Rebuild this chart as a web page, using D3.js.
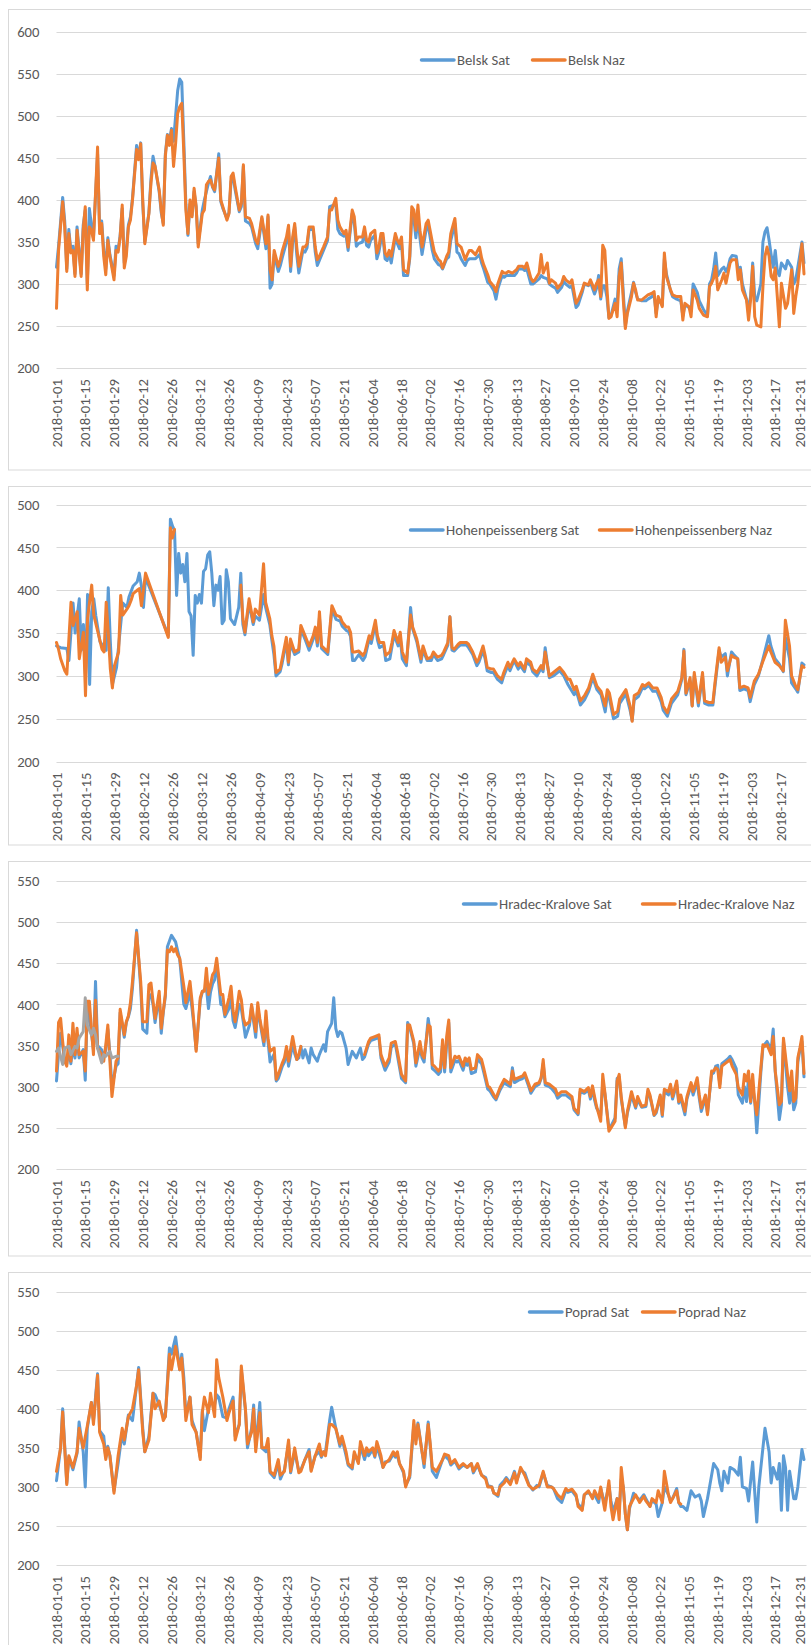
<!DOCTYPE html>
<html><head><meta charset="utf-8">
<script src="https://cdn.jsdelivr.net/npm/d3@7"></script>
<style>
body{margin:0;background:#fff;}
svg{display:block;font-family:Carlito,Calibri,Lato,sans-serif;}
</style></head><body>
<svg id="c" width="811" height="1645"></svg>
<script>
// ---------- DATA ----------
const xTickLabels = ["2018-01-01","2018-01-15","2018-01-29","2018-02-12","2018-02-26","2018-03-12","2018-03-26","2018-04-09","2018-04-23","2018-05-07","2018-05-21","2018-06-04","2018-06-18","2018-07-02","2018-07-16","2018-07-30","2018-08-13","2018-08-27","2018-09-10","2018-09-24","2018-10-08","2018-10-22","2018-11-05","2018-11-19","2018-12-03","2018-12-17","2018-12-31"];
const yTicksBelsk = [200,250,300,350,400,450,500,550,600];
const yTicksHohen = [200,250,300,350,400,450,500];
const yTicksHradec = [200,250,300,350,400,450,500,550];
const yTicksPoprad = [200,250,300,350,400,450,500,550];
const seriesNames = [["Belsk Sat","Belsk Naz"],["Hohenpeissenberg Sat","Hohenpeissenberg Naz"],["Hradec-Kralove Sat","Hradec-Kralove Naz"],["Poprad Sat","Poprad Naz"]];

// [day of year (0 = 2018-01-01), value]
const belskNaz = [[0,271],[1,340],[3,398],[4,368],[5,315],[6,360],[7,337],[8,340],[9,309],[10,364],[12,309],[13,364],[14,392],[15,293],[16,368],[17,364],[18,352],[20,463],[21,360],[22,372],[23,333],[24,311],[25,352],[26,333],[28,305],[29,340],[30,338],[31,356],[32,394],[33,319],[34,333],[35,368],[36,376],[37,400],[39,460],[40,448],[41,467],[42,400],[43,348],[45,384],[46,420],[47,444],[48,440],[50,412],[51,388],[52,370],[53,452],[54,477],[55,465],[56,483],[57,440],[58,467],[59,503],[60,511],[61,515],[62,456],[63,388],[64,360],[65,400],[66,380],[67,414],[68,392],[69,344],[71,384],[72,388],[73,418],[74,422],[75,424],[76,416],[77,412],[79,450],[80,400],[81,392],[83,376],[84,384],[85,428],[86,432],[87,416],[89,388],[90,396],[91,442],[92,380],[94,378],[95,372],[97,352],[98,348],[100,380],[102,348],[103,382],[104,317],[105,305],[106,340],[108,321],[109,329],[110,340],[112,356],[113,370],[114,321],[115,356],[116,372],[117,344],[118,321],[120,344],[121,344],[122,348],[123,368],[125,368],[126,344],[127,329],[128,333],[130,344],[132,356],[133,388],[134,388],[136,402],[137,376],[138,368],[140,360],[141,364],[142,344],[144,388],[145,380],[146,352],[147,356],[149,356],[150,368],[151,352],[152,350],[153,360],[155,364],[156,337],[157,344],[158,360],[159,360],[160,337],[161,333],[162,340],[163,333],[165,360],[166,352],[167,348],[168,356],[169,317],[171,313],[172,333],[173,392],[174,388],[175,364],[176,394],[177,364],[178,344],[180,372],[181,376],[183,350],[184,338],[186,329],[187,327],[188,319],[190,333],[191,338],[192,360],[194,378],[195,348],[196,346],[197,344],[199,329],[200,335],[201,340],[202,340],[204,335],[206,344],[207,331],[208,323],[210,311],[211,303],[213,297],[214,291],[215,301],[217,315],[218,313],[219,313],[220,315],[222,313],[223,315],[224,317],[225,321],[227,321],[228,319],[229,325],[231,307],[232,303],[233,305],[235,313],[236,335],[237,313],[239,325],[240,301],[241,305],[243,301],[244,295],[246,301],[247,309],[248,305],[250,301],[251,305],[253,277],[254,281],[256,293],[257,301],[259,299],[260,305],[262,293],[263,301],[264,305],[265,285],[266,346],[267,340],[268,297],[269,259],[270,261],[272,277],[273,261],[274,309],[275,325],[276,281],[277,247],[278,265],[280,285],[281,301],[282,293],[283,281],[285,281],[287,285],[288,287],[290,289],[291,291],[292,261],[293,285],[295,273],[296,337],[297,309],[299,293],[300,287],[302,285],[304,285],[305,257],[306,277],[308,273],[309,261],[310,293],[312,281],[313,271],[315,263],[317,261],[318,297],[319,301],[320,307],[321,321],[322,293],[324,305],[325,313],[326,301],[327,313],[328,325],[329,329],[331,329],[332,305],[333,317],[334,293],[336,281],[337,257],[338,281],[339,321],[340,261],[341,251],[343,249],[344,297],[345,333],[346,344],[347,333],[348,309],[349,305],[350,319],[351,285],[352,249],[353,301],[355,271],[356,277],[358,317],[359,265],[360,285],[361,301],[362,325],[363,348],[364,312]];

const belskSat = [[0,320],[1,345],[3,403],[4,375],[5,318],[6,365],[7,340],[8,345],[9,312],[10,368],[12,312],[13,370],[14,388],[15,300],[16,390],[17,370],[18,355],[20,455],[21,365],[22,375],[23,340],[24,318],[25,355],[26,335],[28,310],[29,345],[30,340],[31,358],[32,390],[33,325],[34,340],[35,370],[36,380],[37,402],[39,465],[40,450],[41,468],[42,395],[43,350],[45,385],[46,425],[47,452],[48,440],[50,410],[51,385],[52,372],[53,455],[54,478],[55,470],[56,485],[57,470],[58,500],[59,530],[60,544],[61,540],[62,470],[63,395],[64,358],[65,395],[66,382],[67,410],[68,392],[69,348],[71,388],[72,400],[73,410],[74,420],[75,428],[76,415],[77,410],[79,455],[80,398],[81,390],[83,378],[84,385],[85,422],[86,428],[87,412],[89,386],[90,392],[91,440],[92,375],[94,372],[95,368],[97,348],[98,342],[100,378],[102,342],[103,380],[104,295],[105,300],[106,335],[108,315],[109,322],[110,332],[112,350],[113,365],[114,315],[115,350],[116,368],[117,335],[118,313],[120,340],[121,338],[122,343],[123,365],[125,365],[126,338],[127,322],[128,328],[130,340],[132,352],[133,392],[134,393],[136,395],[137,365],[138,360],[140,357],[141,358],[142,340],[144,384],[145,373],[146,345],[147,348],[149,350],[150,362],[151,346],[152,344],[153,352],[155,358],[156,330],[157,338],[158,352],[159,355],[160,330],[161,328],[162,336],[163,325],[165,355],[166,348],[167,342],[168,350],[169,310],[171,310],[172,330],[173,382],[174,378],[175,355],[176,380],[177,354],[178,335],[180,365],[181,370],[183,340],[184,330],[186,323],[187,322],[188,318],[190,330],[191,332],[192,352],[194,372],[195,338],[196,336],[197,330],[199,322],[200,328],[201,330],[202,330],[204,330],[206,335],[207,325],[208,318],[210,302],[211,300],[213,292],[214,282],[215,295],[217,310],[218,308],[219,310],[220,310],[222,310],[223,310],[224,313],[225,318],[227,318],[228,316],[229,318],[231,300],[232,300],[233,302],[235,306],[236,310],[237,308],[239,306],[240,300],[241,298],[243,295],[244,290],[246,296],[247,303],[248,300],[250,296],[251,298],[253,272],[254,275],[256,290],[257,300],[259,298],[260,302],[262,288],[263,295],[264,310],[265,282],[266,298],[267,298],[268,285],[269,260],[270,262],[272,282],[273,275],[274,318],[275,330],[276,290],[277,250],[278,268],[280,290],[281,302],[282,290],[283,282],[285,280],[287,280],[288,282],[290,285],[291,288],[292,265],[293,282],[295,275],[296,330],[297,312],[299,292],[300,285],[302,282],[304,280],[305,262],[306,275],[308,272],[309,268],[310,300],[312,290],[313,280],[315,270],[317,262],[318,300],[319,305],[320,318],[321,337],[322,310],[324,318],[325,320],[326,315],[327,320],[328,330],[329,334],[331,333],[332,315],[333,320],[334,300],[336,282],[337,270],[338,285],[339,325],[340,285],[341,280],[343,300],[344,350],[345,362],[346,367],[347,352],[348,335],[349,320],[350,340],[351,315],[352,310],[353,325],[355,318],[356,328],[358,320],[359,300],[360,305],[361,320],[362,335],[363,350],[364,325]];

const hohenNaz = [[0,339],[1,331],[2,320],[4,306],[5,302],[7,386],[8,359],[10,375],[11,320],[13,351],[14,277],[15,367],[17,406],[18,371],[20,351],[22,331],[23,328],[24,386],[25,351],[26,308],[27,286],[28,312],[30,328],[31,394],[32,371],[34,378],[35,382],[36,388],[37,396],[39,400],[40,402],[41,382],[43,420],[54,345],[55,473],[56,461],[57,471],[58,null],[89,406],[90,367],[91,351],[93,390],[95,363],[96,378],[98,371],[100,431],[101,386],[103,367],[104,347],[105,335],[106,304],[108,308],[109,320],[111,345],[112,316],[113,343],[115,328],[117,331],[118,359],[120,347],[122,335],[124,347],[125,357],[126,339],[127,375],[128,335],[131,328],[133,382],[135,371],[137,369],[138,363],[140,357],[141,357],[142,351],[143,328],[144,328],[146,329],[148,324],[149,328],[151,347],[152,343],[154,365],[155,347],[156,339],[158,339],[159,324],[161,328],[162,339],[163,353],[165,339],[166,351],[167,328],[169,316],[171,371],[172,357],[174,343],[176,320],[177,335],[179,320],[181,322],[182,328],[184,322],[186,324],[187,328],[189,339],[190,369],[191,333],[192,331],[194,337],[195,339],[198,339],[199,337],[201,328],[203,316],[204,320],[206,335],[207,324],[208,310],[210,308],[211,308],[213,300],[215,296],[216,304],[218,316],[219,310],[221,320],[223,312],[224,316],[226,308],[227,320],[229,316],[230,308],[232,304],[234,312],[235,308],[236,328],[238,300],[240,304],[243,310],[245,304],[247,296],[248,296],[250,284],[251,288],[253,271],[255,277],[257,286],[259,302],[261,288],[263,282],[265,265],[266,284],[267,280],[269,255],[271,259],[272,273],[275,284],[277,265],[278,247],[279,277],[281,280],[283,290],[284,288],[286,292],[288,286],[290,286],[292,275],[293,265],[295,257],[297,273],[300,282],[302,298],[303,329],[304,280],[306,298],[307,265],[308,304],[310,269],[312,304],[313,271],[315,269],[317,269],[318,292],[320,333],[321,316],[323,322],[324,306],[326,324],[327,322],[329,320],[330,286],[332,288],[334,286],[335,275],[337,294],[339,302],[341,316],[344,335],[345,328],[347,316],[349,312],[351,306],[352,365],[354,335],[355,300],[357,288],[358,284],[360,312],[361,310]];

const hohenSat = [[0,335],[2,333],[5,332],[6,318],[8,385],[9,350],[11,390],[12,330],[13,360],[14,300],[15,395],[16,290],[17,375],[18,390],[19,370],[21,340],[23,333],[24,330],[25,403],[26,340],[27,290],[29,310],[31,360],[32,385],[34,380],[35,392],[37,405],[39,410],[40,420],[41,405],[42,380],[43,415],[54,347],[55,483],[56,475],[57,470],[58,394],[59,443],[60,420],[61,430],[62,410],[63,443],[64,375],[65,370],[66,324],[67,394],[68,385],[69,395],[70,385],[71,422],[72,425],[73,441],[74,445],[75,420],[76,382],[77,406],[78,400],[79,416],[80,361],[81,365],[82,424],[83,410],[84,367],[86,360],[88,380],[89,420],[90,360],[91,348],[93,385],[95,360],[96,370],[98,365],[100,395],[101,380],[103,360],[104,342],[105,325],[106,300],[108,305],[109,315],[111,340],[112,313],[113,338],[115,325],[117,328],[118,355],[120,343],[122,330],[124,343],[125,352],[126,335],[127,368],[128,332],[131,325],[133,378],[135,366],[137,364],[138,358],[140,353],[141,352],[142,346],[143,318],[144,318],[146,325],[148,318],[149,322],[151,343],[152,338],[154,360],[155,342],[156,333],[158,336],[159,318],[161,320],[162,334],[163,348],[165,335],[166,345],[167,320],[169,312],[171,380],[172,355],[174,340],[176,316],[177,330],[179,318],[181,318],[182,325],[184,318],[186,320],[187,325],[189,336],[190,369],[191,330],[192,329],[194,334],[195,336],[198,336],[199,333],[201,325],[203,312],[204,316],[206,330],[207,320],[208,306],[210,304],[211,304],[213,296],[215,292],[216,300],[218,312],[219,306],[221,318],[223,308],[224,312],[226,305],[227,316],[229,312],[230,305],[232,300],[234,309],[235,305],[236,333],[238,298],[240,300],[243,306],[245,300],[247,290],[248,286],[250,278],[251,283],[253,266],[255,272],[257,282],[259,298],[261,284],[263,278],[265,258],[266,278],[267,274],[269,250],[271,253],[272,268],[275,279],[277,260],[278,248],[279,272],[281,276],[283,286],[284,285],[286,289],[288,282],[290,282],[292,270],[293,260],[295,253],[297,268],[300,278],[302,296],[303,331],[304,278],[306,294],[307,265],[308,300],[310,265],[312,300],[313,268],[315,266],[317,266],[318,288],[320,330],[321,322],[323,326],[324,300],[326,328],[327,325],[329,320],[330,283],[332,285],[334,283],[335,270],[337,290],[339,300],[341,318],[344,347],[345,335],[347,320],[349,314],[351,305],[352,345],[354,320],[355,292],[357,285],[358,281],[360,315],[361,313]];

const hradecNaz = [[0,319],[1,378],[2,383],[3,355],[4,331],[5,325],[6,363],[7,331],[8,377],[9,339],[10,371],[11,339],[13,343],[14,319],[15,404],[16,404],[18,339],[19,405],[20,347],[22,339],[23,331],[24,351],[25,375],[26,331],[27,288],[29,331],[30,335],[31,394],[33,363],[34,379],[35,386],[36,402],[37,428],[39,487],[41,428],[42,379],[44,379],[45,424],[46,426],[47,404],[48,383],[50,416],[51,371],[52,392],[53,412],[54,466],[55,464],[56,470],[57,464],[58,468],[59,460],[60,456],[62,422],[63,402],[65,428],[66,404],[67,375],[68,343],[70,408],[71,416],[72,416],[73,444],[74,412],[75,424],[76,436],[77,440],[78,456],[80,412],[81,412],[82,388],[84,408],[85,422],[86,392],[87,379],[89,416],[90,406],[91,383],[92,375],[94,379],[95,400],[97,367],[98,402],[99,383],[101,355],[102,392],[103,359],[104,343],[106,347],[107,309],[108,315],[110,329],[111,335],[112,349],[113,331],[115,361],[116,347],[117,333],[118,339],[119,349],[120,null],[150,339],[152,355],[153,359],[155,361],[157,363],[158,339],[160,325],[162,335],[163,353],[165,355],[166,343],[168,315],[170,307],[171,375],[172,375],[174,355],[175,329],[177,355],[178,339],[179,335],[181,375],[182,373],[183,327],[184,325],[186,319],[187,323],[188,357],[189,323],[190,361],[191,381],[192,323],[194,337],[195,335],[196,337],[198,325],[199,335],[200,331],[201,335],[202,321],[204,323],[205,339],[207,333],[208,323],[210,301],[211,299],[213,290],[214,286],[216,299],[218,309],[219,307],[221,303],[222,319],[223,309],[225,311],[227,313],[228,317],[230,303],[231,295],[233,303],[235,305],[236,311],[237,333],[238,305],[240,303],[241,301],[243,297],[244,290],[246,294],[248,294],[249,292],[251,288],[252,274],[254,268],[255,297],[257,294],[259,299],[260,288],[261,301],[262,288],[263,276],[265,258],[266,315],[267,294],[269,246],[270,250],[272,258],[273,307],[274,315],[275,288],[277,250],[278,270],[279,282],[280,294],[282,276],[283,288],[285,276],[287,278],[288,297],[289,290],[291,266],[292,270],[294,290],[295,266],[296,297],[298,294],[299,303],[300,288],[302,307],[303,282],[304,290],[306,270],[307,288],[309,305],[310,294],[312,311],[313,290],[314,274],[316,290],[317,266],[319,319],[320,319],[321,323],[322,321],[323,299],[324,325],[326,329],[327,331],[328,333],[329,325],[331,315],[332,299],[334,290],[335,315],[336,307],[337,319],[338,282],[339,315],[340,282],[341,266],[343,323],[344,351],[345,349],[346,351],[348,339],[349,361],[350,319],[352,278],[353,282],[354,359],[356,315],[357,295],[358,319],[359,282],[360,286],[361,335],[362,347],[363,361],[364,316]];

const hradecSat = [[0,307],[1,340],[2,365],[3,350],[4,330],[5,328],[6,345],[7,328],[8,350],[9,335],[10,360],[11,335],[13,345],[14,308],[15,395],[16,385],[18,345],[19,428],[20,350],[22,345],[23,335],[24,345],[25,370],[26,340],[27,300],[29,325],[30,328],[31,390],[33,360],[34,378],[35,385],[36,395],[37,420],[39,490],[41,420],[42,370],[44,365],[45,410],[46,412],[47,400],[48,378],[50,410],[51,365],[52,390],[53,410],[54,470],[55,477],[56,484],[57,480],[58,476],[59,465],[60,455],[62,400],[63,395],[65,415],[66,395],[67,372],[68,345],[70,405],[71,415],[72,418],[73,420],[74,395],[75,415],[76,425],[77,430],[78,450],[80,400],[81,400],[82,385],[84,395],[85,410],[86,380],[87,372],[89,400],[90,395],[91,378],[92,360],[94,375],[95,398],[97,360],[98,395],[99,380],[101,350],[102,380],[103,355],[104,330],[106,340],[107,307],[108,310],[110,325],[111,330],[112,345],[113,325],[115,352],[116,340],[117,333],[118,335],[119,349],[120,335],[121,345],[123,329],[124,347],[125,339],[127,331],[128,339],[130,351],[131,343],[132,367],[134,377],[135,408],[136,371],[137,361],[138,367],[139,365],[141,347],[142,327],[144,343],[145,339],[146,335],[148,347],[149,333],[150,336],[152,352],[153,356],[155,358],[157,360],[158,335],[160,320],[162,330],[163,348],[165,352],[166,338],[168,310],[170,305],[171,378],[172,372],[174,352],[175,325],[177,348],[178,335],[179,330],[181,383],[182,365],[183,322],[184,320],[186,315],[187,318],[188,352],[189,318],[190,352],[191,378],[192,318],[194,332],[195,330],[196,332],[198,320],[199,330],[200,326],[201,330],[202,316],[204,318],[205,334],[207,328],[208,318],[210,297],[211,295],[213,287],[214,284],[216,296],[218,305],[219,303],[221,300],[222,323],[223,305],[225,308],[227,310],[228,314],[230,300],[231,292],[233,300],[235,303],[236,310],[237,328],[238,302],[240,300],[241,298],[243,292],[244,286],[246,290],[248,290],[249,288],[251,284],[252,272],[254,266],[255,294],[257,292],[259,296],[260,285],[261,298],[262,284],[263,274],[265,265],[266,305],[267,292],[269,250],[270,252],[272,262],[273,310],[274,312],[275,285],[277,252],[278,268],[279,278],[280,290],[282,274],[283,284],[285,275],[287,276],[288,294],[289,288],[291,265],[292,268],[294,288],[295,264],[296,294],[298,290],[299,300],[300,285],[302,303],[303,280],[304,286],[306,266],[307,285],[309,302],[310,290],[312,306],[313,286],[314,270],[316,286],[317,268],[319,315],[320,317],[321,325],[322,326],[323,303],[324,328],[326,332],[327,334],[328,337],[329,333],[331,322],[332,290],[334,280],[335,300],[336,282],[337,310],[338,280],[339,300],[340,283],[341,244],[343,318],[344,348],[345,352],[346,355],[348,345],[349,370],[350,318],[352,260],[353,278],[354,355],[356,300],[357,280],[358,300],[359,272],[360,280],[361,330],[362,345],[363,355],[364,312]];

const hradecExtra = [[0,343],[1,347],[3,327],[4,347],[6,349],[7,339],[9,349],[10,347],[11,359],[13,367],[14,408],[15,375],[17,363],[18,371],[19,363],[20,347],[22,329],[23,339],[24,337],[26,343],[27,335],[29,337],[30,337]];

const popradNaz = [[0,320],[2,350],[3,396],[5,303],[6,340],[8,325],[10,345],[11,375],[13,350],[15,378],[17,408],[18,380],[20,443],[21,370],[23,355],[24,335],[25,350],[26,340],[28,292],[30,340],[32,375],[33,360],[35,390],[37,400],[39,430],[40,450],[42,370],[43,345],[45,360],[47,420],[48,400],[50,410],[52,385],[53,390],[55,470],[56,450],[58,480],[60,450],[61,465],[62,430],[63,385],[65,415],[66,380],[68,370],[70,335],[71,395],[72,415],[74,395],[75,420],[77,390],[78,463],[79,440],[81,415],[83,385],[84,395],[86,410],[87,360],[89,380],[90,455],[92,400],[93,355],[95,370],[96,400],[97,345],[99,395],[100,350],[102,350],[103,362],[104,320],[106,315],[108,335],[109,315],[111,320],[113,360],[114,320],[116,350],[118,318],[119,320],[121,335],[123,345],[124,320],[126,340],[128,355],[129,340],[130,345],[131,340],[133,380],[134,380],[136,375],[138,355],[139,365],[141,345],[142,330],[144,325],[145,345],[147,330],[148,358],[150,340],[151,350],[152,345],[154,350],[155,340],[156,358],[158,340],[159,325],[160,330],[162,335],[164,345],[165,340],[166,345],[167,330],[169,320],[170,300],[172,315],[174,385],[175,355],[176,380],[178,345],[179,330],[181,380],[182,355],[183,325],[185,320],[186,325],[188,335],[189,342],[191,340],[192,330],[194,335],[196,325],[198,330],[200,325],[202,330],[203,320],[205,330],[207,315],[209,310],[210,300],[212,300],[213,292],[215,290],[216,300],[218,305],[219,310],[221,303],[223,318],[224,305],[226,325],[228,315],[230,302],[232,297],[234,300],[235,302],[237,320],[238,310],[239,300],[241,300],[242,298],[244,290],[246,285],[248,298],[249,295],[251,297],[253,290],[254,275],[256,270],[257,290],[259,295],[261,285],[262,295],[264,285],[265,300],[266,285],[267,270],[269,308],[270,275],[271,258],[273,285],[274,258],[275,325],[276,300],[277,265],[278,245],[279,275],[281,285],[282,290],[284,280],[286,288],[287,282],[289,275],[290,285],[292,280],[293,295],[295,280],[296,320],[298,290],[299,280],[300,285],[302,295],[303,280],[304,278]];

const popradSat = [[0,308],[2,350],[3,400],[5,305],[6,338],[8,322],[10,343],[11,383],[13,345],[14,300],[15,375],[17,408],[18,385],[20,445],[21,372],[23,365],[24,338],[25,352],[26,340],[28,295],[30,330],[32,370],[33,355],[35,392],[37,385],[39,430],[40,453],[42,375],[43,345],[45,365],[47,420],[48,418],[50,405],[52,390],[53,390],[55,478],[56,470],[58,492],[60,450],[61,470],[62,440],[63,390],[65,415],[66,385],[68,370],[70,338],[71,398],[72,372],[74,400],[75,408],[77,405],[78,418],[79,415],[81,390],[83,388],[84,400],[86,415],[87,365],[89,380],[90,450],[92,398],[93,350],[95,375],[96,405],[97,350],[99,408],[100,350],[102,345],[103,355],[104,318],[106,312],[108,330],[109,310],[111,322],[113,355],[114,318],[116,345],[118,320],[119,322],[121,335],[123,348],[124,322],[126,340],[128,345],[129,338],[130,345],[131,345],[133,385],[134,402],[136,375],[138,352],[139,362],[141,340],[142,328],[144,323],[145,342],[147,332],[148,352],[150,335],[151,345],[152,340],[154,348],[155,338],[156,352],[158,335],[159,325],[160,332],[162,333],[164,342],[165,338],[166,340],[167,330],[169,318],[170,302],[172,312],[174,380],[175,360],[176,382],[178,345],[179,325],[181,383],[182,352],[183,320],[185,312],[186,320],[188,335],[189,340],[191,335],[192,328],[194,333],[196,323],[198,328],[200,325],[202,330],[203,318],[205,328],[207,315],[209,312],[210,302],[212,300],[213,292],[215,288],[216,302],[218,308],[219,312],[221,305],[223,320],[224,308],[226,322],[228,318],[230,303],[232,296],[234,302],[235,300],[237,318],[238,310],[239,302],[241,300],[242,298],[244,285],[246,280],[248,295],[249,293],[251,295],[253,288],[254,278],[256,272],[257,290],[259,293],[261,288],[262,290],[264,280],[265,298],[266,288],[267,278],[269,302],[270,282],[271,268],[273,285],[274,270],[275,310],[276,300],[277,265],[278,245],[279,272],[281,292],[282,288],[284,283],[286,290],[287,285],[289,275],[290,283],[292,278],[293,262],[295,280],[296,300],[298,290],[299,282],[300,285],[302,298],[303,280],[304,275],[305,275],[307,270],[309,295],[311,287],[313,290],[314,282],[315,262],[317,285],[318,300],[320,330],[322,322],[323,305],[324,295],[325,320],[327,305],[328,325],[330,322],[332,315],[333,338],[334,300],[336,298],[337,282],[339,332],[341,255],[342,300],[344,350],[345,375],[347,345],[348,305],[349,325],[351,310],[352,330],[353,270],[354,340],[355,325],[356,270],[357,320],[359,285],[360,285],[361,300],[362,325],[363,348],[364,335]];

// ---------- LAYOUT ----------
const BLUE = "#5B9BD5", ORANGE = "#ED7D31", GRAY = "#A5A5A5";
const TXT = "#595959", GRID = "#D9D9D9";
const FS = 14.7;
const svg = d3.select("#c");
const day0 = Date.UTC(2018, 0, 1);
const toDate = d => new Date(day0 + d * 864e5);
const parse = d3.utcParse("%Y-%m-%d");
const PLOT_L = 56.5, PLOT_R = 804, GRID_R = 806.5, LABEL_MAX_X = 800;

const panels = [
  {box:[8.5,9.5,810,460.5], yTicks:yTicksBelsk, yTop:32, yBot:368, endDay:364, nTicks:27,
   legendY:60, leg:[420,531], names:seriesNames[0], series:[[belskSat,BLUE],[belskNaz,ORANGE]]},
  {box:[8.5,486.5,810,358.5], yTicks:yTicksHohen, yTop:504.6, yBot:761.6, endDay:361, nTicks:26,
   legendY:530, leg:[409,598], names:seriesNames[1], series:[[hohenSat,BLUE],[hohenNaz,ORANGE]]},
  {box:[8.5,861.5,810,394.5], yTicks:yTicksHradec, yTop:881, yBot:1169, endDay:364, nTicks:27,
   legendY:904, leg:[462,641], names:seriesNames[2], series:[[hradecSat,BLUE],[hradecNaz,ORANGE],[hradecExtra,GRAY]]},
  {box:[8.5,1272.5,810,400], yTicks:yTicksPoprad, yTop:1291.7, yBot:1565, endDay:364, nTicks:27,
   legendY:1312, leg:[528,641], names:seriesNames[3], series:[[popradSat,BLUE],[popradNaz,ORANGE]]}
];

panels.forEach(p => {
  const g = svg.append("g");
  g.append("rect").attr("x",p.box[0]).attr("y",p.box[1]).attr("width",p.box[2]).attr("height",p.box[3])
    .attr("fill","#fff").attr("stroke",GRID).attr("stroke-width",1);
  const yMax = d3.max(p.yTicks), yMin = d3.min(p.yTicks);
  const x = d3.scaleUtc().domain([toDate(0), toDate(p.endDay)]).range([PLOT_L, PLOT_R]);
  const y = d3.scaleLinear().domain([yMin, yMax]).range([p.yBot, p.yTop]);

  g.selectAll("line.grid").data(p.yTicks).join("line")
    .attr("x1",PLOT_L).attr("x2",GRID_R)
    .attr("y1",d=>Math.round(y(d))+0.5).attr("y2",d=>Math.round(y(d))+0.5)
    .attr("stroke",GRID).attr("stroke-width",1);

  g.selectAll("text.yl").data(p.yTicks).join("text")
    .attr("x",39.5).attr("y",d=>y(d)).attr("dy","0.35em")
    .attr("text-anchor","end").attr("font-size",FS).attr("fill",TXT).text(d=>d);

  g.selectAll("text.xl").data(xTickLabels.slice(0,p.nTicks)).join("text")
    .attr("transform",d=>`translate(${Math.min(x(parse(d)),LABEL_MAX_X)},${p.yBot+11}) rotate(-90)`)
    .attr("dy","0.35em").attr("text-anchor","end").attr("font-size",FS).attr("fill",TXT).text(d=>d);

  const line = d3.line().defined(d=>d[1]!=null).x(d=>x(toDate(d[0]))).y(d=>y(d[1]));
  p.series.forEach(([data,col]) => {
    g.append("path").attr("d",line(data)).attr("fill","none").attr("stroke",col)
      .attr("stroke-width",3).attr("stroke-linejoin","round").attr("stroke-linecap","round");
  });

  // legend
  [BLUE, ORANGE].forEach((col,i) => {
    const lx = p.leg[i];
    g.append("line").attr("x1",lx+1.5).attr("x2",lx+34).attr("y1",p.legendY).attr("y2",p.legendY)
      .attr("stroke",col).attr("stroke-width",3.5).attr("stroke-linecap","round");
    g.append("text").attr("x",lx+37).attr("y",p.legendY).attr("dy","0.35em")
      .attr("font-size",FS).attr("fill",TXT).text(p.names[i]);
  });
});
</script>
</body></html>
